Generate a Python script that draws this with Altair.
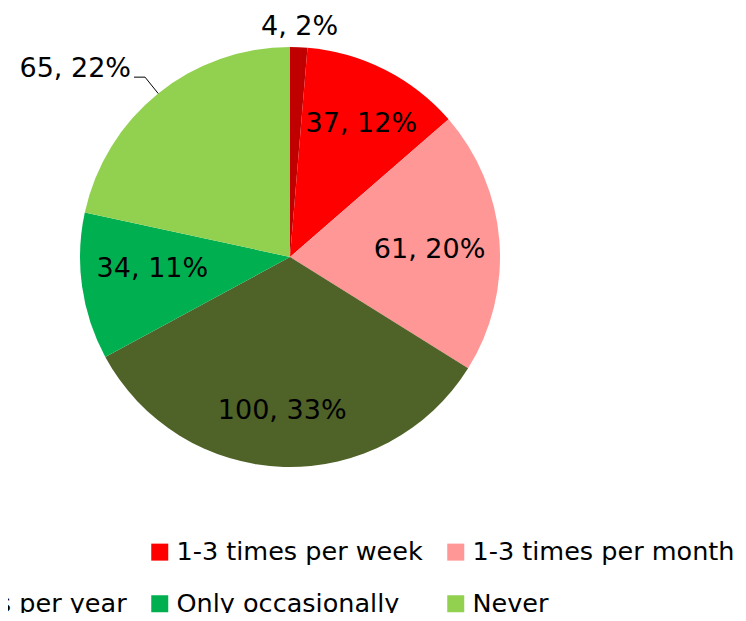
import altair as alt
import pandas as pd

# ---- data ----
categories = ["Daily", "1-3 times per week", "1-3 times per month",
              "1-3 times per year", "Only occasionally", "Never"]
counts = [4, 37, 61, 100, 34, 65]
percents = [2, 12, 20, 33, 11, 22]
colors = ["#C00000", "#FF0000", "#FF9797", "#4F6228", "#00B050", "#92D050"]

df = pd.DataFrame({
    "category": categories,
    "count": counts,
    "percent": percents,
    "idx": list(range(len(categories))),
})

# ---- styling / layout ----
FONT = "DejaVu Sans"
CX, CY, R = 282, 249, 210
LABEL_SIZE = 27

legend = alt.Legend(
    orient="none", legendX=-147, legendY=531, direction="horizontal", columns=3,
    title=None, symbolType="square", symbolSize=289, symbolStrokeWidth=0,
    labelFont=FONT, labelFontSize=25.5, labelColor="black", labelLimit=600,
    labelOffset=4, columnPadding=20, rowPadding=25, padding=0,
)

arcs = alt.Chart(df).mark_arc(outerRadius=R).encode(
    theta=alt.Theta("count:Q", stack=True),
    order=alt.Order("idx:Q"),
    color=alt.Color("category:N", sort=categories,
                    scale=alt.Scale(domain=categories, range=colors), legend=legend),
    x=alt.value(CX),
    y=alt.value(CY),
)

ang = alt.Chart(df).transform_joinaggregate(
    total="sum(count)"
).transform_window(
    cum="sum(count)", sort=[alt.SortField("idx")], frame=[None, 0]
).transform_calculate(
    mid="2*PI*(datum.cum - datum.count/2)/datum.total",
    label="datum.count + ', ' + datum.percent + '%'",
)

# radius, dx, dy, align for each slice label
label_style = {
    "Daily": (230, 0, 0, "center"),
    "1-3 times per week": (151, 3, 2, "center"),
    "1-3 times per month": (140, 0, 4, "center"),
    "1-3 times per year": (154, -3, 0, "center"),
    "Only occasionally": (139, 0, -8, "center"),
    "Never": (R + 21, -14, -8, "right"),
}


def label_layer(cat, r, dx, dy, align):
    return ang.transform_filter(alt.datum.category == cat).transform_calculate(
        lx=f"{CX} + {r}*sin(datum.mid)",
        ly=f"{CY} - {r}*cos(datum.mid)",
    ).mark_text(
        font=FONT, fontSize=LABEL_SIZE, color="black", align=align,
        baseline="middle", dx=dx, dy=dy,
    ).encode(
        x=alt.X("lx:Q", scale=None, axis=None),
        y=alt.Y("ly:Q", scale=None, axis=None),
        text="label:N",
    )


labels = [label_layer(c, *label_style[c]) for c in categories]

leader = ang.transform_filter(alt.datum.category == "Never").transform_calculate(
    x1=f"{CX} + {R}*sin(datum.mid)",
    y1=f"{CY} - {R}*cos(datum.mid)",
    x2=f"{CX} + {R + 21}*sin(datum.mid)",
    y2=f"{CY} - {R + 21}*cos(datum.mid)",
).transform_calculate(x3="datum.x2 - 11")

seg1 = leader.mark_rule(color="black", strokeWidth=1).encode(
    x=alt.X("x1:Q", scale=None, axis=None), y=alt.Y("y1:Q", scale=None, axis=None),
    x2="x2:Q", y2="y2:Q",
)
seg2 = leader.mark_rule(color="black", strokeWidth=1).encode(
    x=alt.X("x2:Q", scale=None, axis=None), y=alt.Y("y2:Q", scale=None, axis=None),
    x2="x3:Q",
)

chart = alt.layer(arcs, seg1, seg2, *labels).properties(
    width=730, height=605,
    autosize=alt.AutoSizeParams(type="none"),
    padding=0,
).configure_view(stroke=None)

chart.save("out.html", embed_options={"renderer": "svg", "actions": False})
